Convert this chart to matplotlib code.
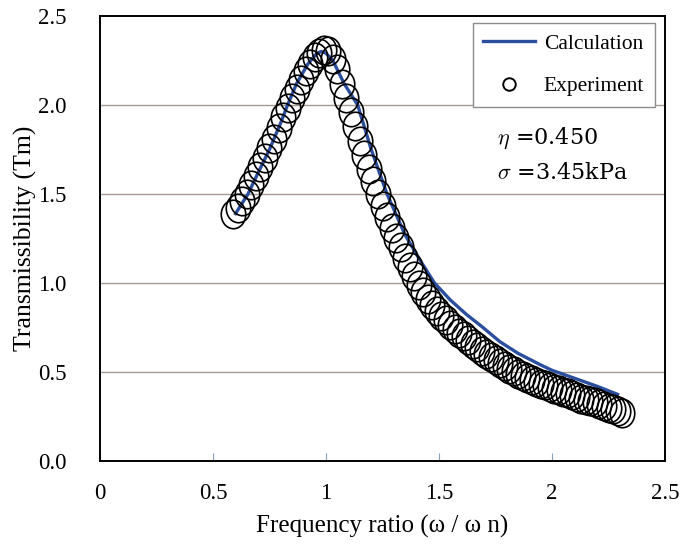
import matplotlib
matplotlib.use("Agg")
import matplotlib.pyplot as plt
from matplotlib.path import Path
from matplotlib.transforms import Affine2D
from matplotlib.lines import Line2D

# calculated transmissibility curve
calc_x = [0.60, 0.655, 0.70, 0.75, 0.80, 0.83, 0.87, 0.92, 0.96, 0.98, 1.00, 1.03,
          1.08, 1.14, 1.20, 1.27, 1.35, 1.42, 1.48, 1.55, 1.62, 1.69, 1.77, 1.85,
          1.95, 2.00, 2.10, 2.20, 2.29]
calc_y = [1.39, 1.50, 1.62, 1.75, 1.90, 2.00, 2.12, 2.23, 2.29, 2.30, 2.29, 2.25,
          2.12, 2.00, 1.75, 1.50, 1.27, 1.12, 1.00, 0.905, 0.825, 0.755, 0.67, 0.605,
          0.54, 0.51, 0.465, 0.42, 0.375]

# measured points
exp_x = [0.59, 0.61, 0.63, 0.65, 0.67, 0.69, 0.71, 0.73, 0.75, 0.77, 0.79, 0.81,
         0.83, 0.85, 0.87, 0.89, 0.91, 0.93, 0.95, 0.97, 0.99, 1.01, 1.03, 1.05,
         1.07, 1.09, 1.11, 1.13, 1.15, 1.17, 1.19, 1.21, 1.23, 1.25, 1.27, 1.29,
         1.31, 1.33, 1.35, 1.37, 1.39, 1.41, 1.43, 1.45, 1.47, 1.49, 1.51, 1.53,
         1.55, 1.57, 1.59, 1.61, 1.63, 1.65, 1.67, 1.69, 1.71, 1.73, 1.75, 1.77,
         1.79, 1.81, 1.83, 1.85, 1.87, 1.89, 1.91, 1.93, 1.95, 1.97, 1.99, 2.01,
         2.03, 2.05, 2.07, 2.09, 2.11, 2.13, 2.15, 2.17, 2.19, 2.21, 2.23, 2.25,
         2.27, 2.29, 2.31]
exp_y = [1.39, 1.42, 1.46, 1.50, 1.55, 1.60, 1.65, 1.70, 1.76, 1.81, 1.87, 1.93,
         1.98, 2.04, 2.09, 2.14, 2.19, 2.23, 2.27, 2.29, 2.31, 2.30, 2.26, 2.20,
         2.12, 2.04, 1.96, 1.88, 1.80, 1.72, 1.64, 1.57, 1.50, 1.43, 1.37, 1.31,
         1.25, 1.20, 1.14, 1.09, 1.04, 0.99, 0.95, 0.91, 0.875, 0.845, 0.815, 0.79,
         0.765, 0.74, 0.72, 0.70, 0.68, 0.66, 0.64, 0.62, 0.60, 0.585, 0.565, 0.55,
         0.535, 0.52, 0.505, 0.49, 0.48, 0.465, 0.455, 0.445, 0.435, 0.425, 0.415, 0.405,
         0.40, 0.39, 0.38, 0.37, 0.36, 0.35, 0.345, 0.335, 0.33, 0.32, 0.31, 0.30,
         0.29, 0.28, 0.27]

xticks = [0, 0.5, 1, 1.5, 2, 2.5]
xtick_labels = ["0", "0.5", "1", "1.5", "2", "2.5"]
yticks = [0.0, 0.5, 1.0, 1.5, 2.0, 2.5]
ytick_labels = ["0.0", "0.5", "1.0", "1.5", "2.0", "2.5"]

plt.rcParams["font.family"] = ["Liberation Serif", "DejaVu Serif"]
plt.rcParams["mathtext.fontset"] = "cm"

fig = plt.figure(figsize=(6.92, 5.47), dpi=100)
ax = fig.add_axes([0.1445, 0.157, 0.8165, 0.814])

# slightly tall ellipse marker like the original
ell = Path.unit_circle().transformed(Affine2D().scale(0.86, 1.0))

for y in yticks[1:-1]:
    ax.axhline(y, color="#a89a90", lw=1.0, zorder=0)

ax.plot(calc_x, calc_y, color="#2b4f9e", lw=2.4, zorder=2)
ax.plot(exp_x, exp_y, ls="none", marker=ell, ms=20.5, mfc="none",
        mec="black", mew=1.2, zorder=3)

ax.set_xlim(0, 2.5)
ax.set_ylim(0, 2.5)
ax.set_xticks(xticks)
ax.set_xticklabels(xtick_labels, fontsize=16.5)
ax.set_yticks(yticks)
ax.set_yticklabels(ytick_labels, fontsize=16.5)
ax.tick_params(axis="x", direction="in", length=6, color="#8aa0b8", pad=16)
ax.tick_params(axis="y", length=0, pad=24)
for s in ax.spines.values():
    s.set_linewidth(1.4)
    s.set_color("black")

ax.set_xlabel("Frequency ratio (ω / ω n)", fontsize=18)
ax.xaxis.set_label_coords(0.5, -0.121)
ax.set_ylabel("Transmissibility (Tm)", fontsize=18.5)
ax.yaxis.set_label_coords(-0.111, 0.5)

handles = [Line2D([], [], color="#2b4f9e", lw=2.4),
           Line2D([], [], ls="none", marker="o", ms=9, mfc="none", mec="black", mew=1.4)]
leg = ax.legend(handles, ["Calculation", "Experiment"], loc="upper right",
                bbox_to_anchor=(0.982, 0.984), borderaxespad=0, fancybox=False,
                fontsize=15.5, handlelength=2.4, handletextpad=0.4, labelspacing=1.05,
                borderpad=0.5, framealpha=1)
leg.get_frame().set_edgecolor("#8c8c8c")
leg.get_frame().set_linewidth(1.0)

ax.text(0.703, 0.726, r"$\eta$ =0.450", transform=ax.transAxes, fontsize=16,
        family="DejaVu Serif", va="center")
ax.text(0.703, 0.648, r"$\sigma$ =3.45kPa", transform=ax.transAxes, fontsize=16,
        family="DejaVu Serif", va="center")

fig.savefig("out.png", dpi=100)
